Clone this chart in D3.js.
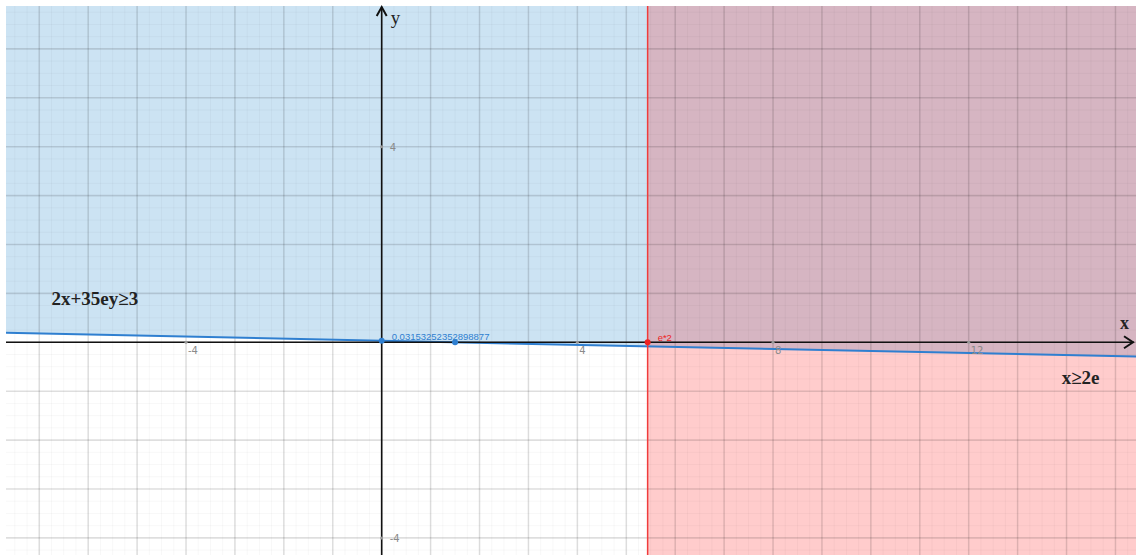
<!DOCTYPE html>
<html>
<head>
<meta charset="utf-8">
<script src="https://cdn.jsdelivr.net/npm/d3@7"></script>
<style>
  body { margin: 0; background: #fff; }
  svg { display: block; }
  .tick-label { font-family: "DejaVu Sans", sans-serif; font-size: 10px; fill: #8a8a8a; }
  .eq-label { font-family: "Liberation Serif", serif; font-weight: bold; font-size: 19px; fill: #222; }
</style>
</head>
<body>
<svg id="chart"></svg>
<script>
// visible window of the plane
const xDomain = [-7.68, 15.42];
const yDomain = [6.877, -4.35];

// grid steps and tick labels
const majorStep = 1;
const minorStep = 0.25;
const xTicks = [-4, 4, 8, 12];
const yTicks = [4, -4];

// boundary line 2x + 35e*y = 3, endpoints at the window edges
const lineX = [-7.68, 15.42];
const lineY = [0.1930, -0.2926];

// vertical boundary x = 2e
const boundaryX = 2 * Math.E;

// labelled points
const pointX = [0, 1.5, 2 * Math.E];
const pointY = [0.03153252352898877, 0, 0];
const pointLabels = ['0.03153252352898877', '', 'e*2'];
const pointColors = ['#2f7fd0', '#2f7fd0', '#ee2222'];

// inequality labels
const eqLabels = ['2x+35ey≥3', 'x≥2e'];
const eqX = [-6.75, 13.9];
const eqY = [0.77, -0.85];

const width = 1136, height = 555;
const area = {left: 6, top: 6, right: 1136, bottom: 555};

const svg = d3.select('#chart')
    .attr('width', width)
    .attr('height', height);

const x = d3.scaleLinear().domain(xDomain).range([area.left, area.right]);
const y = d3.scaleLinear().domain(yDomain).range([area.top, area.bottom]);

svg.append('clipPath').attr('id', 'clip')
  .append('rect')
    .attr('x', area.left).attr('y', area.top)
    .attr('width', area.right - area.left)
    .attr('height', area.bottom - area.top);

const plot = svg.append('g').attr('clip-path', 'url(#clip)');

// blue half-plane above the line
const bluePoly = [
  [lineX[0], lineY[0]], [lineX[1], lineY[1]],
  [xDomain[1], yDomain[0]], [xDomain[0], yDomain[0]]
];
plot.append('path')
    .attr('d', d3.line().x(d => x(d[0])).y(d => y(d[1]))(bluePoly) + 'Z')
    .attr('fill', '#cce3f3');

// red half-plane x >= 2e
plot.append('rect')
    .attr('x', x(boundaryX))
    .attr('y', area.top)
    .attr('width', area.right - x(boundaryX))
    .attr('height', area.bottom - area.top)
    .attr('fill', 'rgba(255,0,0,0.2)');

// grid
const minorX = d3.range(Math.ceil(xDomain[0] / minorStep) * minorStep, xDomain[1], minorStep);
const minorY = d3.range(Math.ceil(yDomain[1] / minorStep) * minorStep, yDomain[0], minorStep);
const majorX = d3.range(Math.ceil(xDomain[0]), xDomain[1], majorStep);
const majorY = d3.range(Math.ceil(yDomain[1]), yDomain[0], majorStep);

plot.append('g').selectAll('line').data(minorX).join('line')
    .attr('x1', d => x(d)).attr('x2', d => x(d))
    .attr('y1', area.top).attr('y2', area.bottom)
    .attr('stroke', 'rgba(0,0,0,0.03)');
plot.append('g').selectAll('line').data(minorY).join('line')
    .attr('y1', d => y(d)).attr('y2', d => y(d))
    .attr('x1', area.left).attr('x2', area.right)
    .attr('stroke', 'rgba(0,0,0,0.03)');
plot.append('g').selectAll('line').data(majorX).join('line')
    .attr('x1', d => x(d)).attr('x2', d => x(d))
    .attr('y1', area.top).attr('y2', area.bottom)
    .attr('stroke', 'rgba(0,0,0,0.11)')
    .attr('stroke-width', 1.6);
plot.append('g').selectAll('line').data(majorY).join('line')
    .attr('y1', d => y(d)).attr('y2', d => y(d))
    .attr('x1', area.left).attr('x2', area.right)
    .attr('stroke', 'rgba(0,0,0,0.11)')
    .attr('stroke-width', 1.6);

// axes
svg.append('line')
    .attr('x1', area.left).attr('x2', area.right - 2)
    .attr('y1', y(0)).attr('y2', y(0))
    .attr('stroke', '#111').attr('stroke-width', 1.6);
svg.append('line')
    .attr('x1', x(0)).attr('x2', x(0))
    .attr('y1', area.bottom).attr('y2', area.top + 1)
    .attr('stroke', '#111').attr('stroke-width', 1.6);

// arrow heads
svg.append('path')
    .attr('d', `M${area.right - 12},${y(0) - 6} L${area.right - 3},${y(0)} L${area.right - 12},${y(0) + 6}`)
    .attr('fill', 'none').attr('stroke', '#111').attr('stroke-width', 2);
svg.append('path')
    .attr('d', `M${x(0) - 5},${area.top + 10} L${x(0)},${area.top + 1} L${x(0) + 5},${area.top + 10}`)
    .attr('fill', 'none').attr('stroke', '#111').attr('stroke-width', 2);

svg.append('text')
    .attr('x', x(0) + 9).attr('y', 24)
    .style('font-family', '"Liberation Serif", serif')
    .style('font-size', '19px').style('fill', '#222')
    .text('y');
svg.append('text')
    .attr('x', 1120).attr('y', 329)
    .style('font-family', '"Liberation Serif", serif')
    .style('font-weight', 'bold')
    .style('font-size', '18px').style('fill', '#222')
    .text('x');

// tick marks and labels
svg.append('g').selectAll('text').data(xTicks).join('text')
    .attr('class', 'tick-label')
    .attr('x', d => x(d) + 2)
    .attr('y', y(0) + 12)
    .text(d => d);
svg.append('g').selectAll('circle').data(xTicks).join('circle')
    .attr('cx', d => x(d)).attr('cy', y(0)).attr('r', 1.5)
    .attr('fill', '#999');
svg.append('g').selectAll('text').data(yTicks).join('text')
    .attr('class', 'tick-label')
    .attr('x', x(0) + 8)
    .attr('y', d => y(d) + 4)
    .text(d => d);
svg.append('g').selectAll('circle').data(yTicks).join('circle')
    .attr('cx', x(0)).attr('cy', d => y(d)).attr('r', 1.5)
    .attr('fill', '#999');

// red boundary x = 2e
svg.append('line')
    .attr('x1', x(boundaryX)).attr('x2', x(boundaryX))
    .attr('y1', area.top).attr('y2', area.bottom)
    .attr('stroke', '#f03c3c').attr('stroke-width', 1.5);

// blue boundary line
plot.append('line')
    .attr('x1', x(lineX[0])).attr('y1', y(lineY[0]))
    .attr('x2', x(lineX[1])).attr('y2', y(lineY[1]))
    .attr('stroke', '#2f7fd0').attr('stroke-width', 2);

// points and their labels
const pts = pointX.map((px, i) => ({x: px, y: pointY[i], label: pointLabels[i], color: pointColors[i]}));
svg.append('g').selectAll('circle').data(pts).join('circle')
    .attr('cx', d => x(d.x)).attr('cy', d => y(d.y)).attr('r', 3)
    .attr('fill', d => d.color);
svg.append('g').selectAll('text').data(pts).join('text')
    .attr('x', d => x(d.x) + 10)
    .attr('y', d => y(d.y) - 1)
    .style('font-family', '"Liberation Sans", sans-serif')
    .style('font-size', '9.5px')
    .style('fill', d => d.color)
    .text(d => d.label);

// inequality labels
svg.append('g').selectAll('text').data(eqLabels).join('text')
    .attr('class', 'eq-label')
    .attr('x', (d, i) => x(eqX[i]))
    .attr('y', (d, i) => y(eqY[i]))
    .text(d => d);
</script>
</body>
</html>
